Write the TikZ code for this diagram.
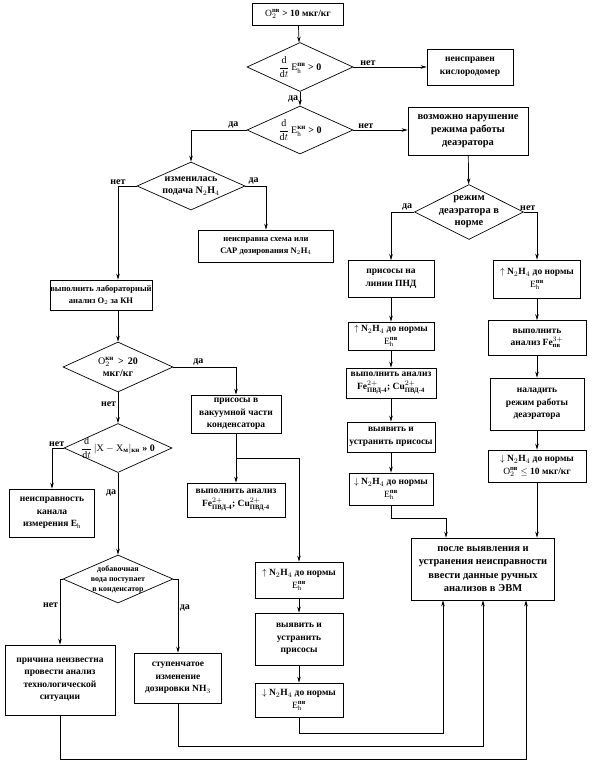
\documentclass[tikz,border=0pt]{standalone}
\usepackage{fontspec}
\usepackage{amsmath}
\setmainfont{Liberation Serif}
\usetikzlibrary{shapes.geometric, arrows.meta, calc}
\tikzset{
    box/.style={draw, line width=0.7pt, align=center, inner sep=0.5pt, font=\bfseries\fontsize{9.5}{12.5}\selectfont},
    dec/.style={draw, diamond, line width=0.7pt, inner sep=0pt},
    declab/.style={align=center, inner sep=0pt, font=\bfseries\fontsize{10}{12.5}\selectfont},
    sz/.style 2 args={minimum width=#1pt, minimum height=#2pt},
    arrow/.style={-{Stealth[length=6pt, width=3.5pt]}, line width=0.7pt},
    yn/.style={font=\bfseries\fontsize{10}{11}\selectfont, inner sep=1.5pt}
}
\newcommand{\Eh}[1]{$\mathrm{E}_{\mathrm{h}}^{\text{#1}}$}
\newcommand{\ddt}{$\dfrac{\mathrm{d}}{\mathrm{d}t}$}
\newcommand{\hyd}{N$_2$H$_4$}

\begin{document}
\begin{tikzpicture}[x=1pt, y=-1pt]
    \useasboundingbox (0,0) rectangle (594,763);
    % top
    \node[box, sz={91}{22}] (start) at (298,14) {$\mathrm{O}_2^{\text{пв}}$ > 10 мкг/кг};
    \node[dec, sz={106}{49}, label={[declab]center:{\ddt\,\Eh{пв} > 0}}] (d1) at (300,67) {};
    \node[box, sz={86}{36}] (kisl) at (470,67) {неисправен\\кислородомер};
    \node[dec, sz={106}{48}, label={[declab]center:{\ddt\,\Eh{кн} > 0}}] (d2) at (300,130) {};
    \node[box, sz={120}{48}, font=\bfseries\fontsize{10.5}{13}\selectfont] (deaer) at (468,131) {возможно нарушение\\режима работы\\деаэратора};
    % left branch
    \node[dec, sz={108}{48}, label={[declab]center:{изменилась\\подача \hyd}}] (d3) at (191,186) {};
    \node[box, sz={135}{32}, font=\bfseries\fontsize{8.5}{12}\selectfont] (sar) at (266,246) {неисправна схема или\\САР дозирования \hyd};
    \node[box, sz={102}{30}, font=\bfseries\fontsize{8.5}{12}\selectfont] (labor) at (101,295) {выполнить лабораторный\\анализ O$_2$ за КН};
    \node[dec, sz={110}{50}, label={[declab]center:{$\mathrm{O}_2^{\text{кн}}$ \,>\, 20\\мкг/кг}}] (d4) at (118,367) {};
    \node[box, sz={90}{38}] (vak) at (236,414) {присосы в\\вакуумной части\\конденсатора};
    \node[box, sz={98}{34}] (fe1) at (236,500) {выполнить анализ\\Fe$^{2+}_{\text{ПВД-4}}$; Cu$^{2+}_{\text{ПВД-4}}$};
    \node[dec, sz={108}{49}, label={[declab]center:{\ddt\,$|\mathrm{X}-\mathrm{X}_{\text{м}}|_{\text{кн}}$ » 0}}] (d6) at (118,448) {};
    \node[box, sz={85}{48}] (kanal) at (52,513) {неисправность\\канала\\измерения E$_\mathrm{h}$};
    \node[dec, sz={110}{48}, label={[declab, font=\bfseries\fontsize{8}{10}\selectfont]center:{добавочная\\вода поступает\\в конденсатор}}] (d7) at (118,579) {};
    \node[box, sz={110}{70}] (prich) at (60,680) {причина неизвестна\\провести анализ\\технологической\\ситуации};
    \node[box, sz={87}{50}] (stup) at (178,678) {ступенчатое\\изменение\\дозировки NH$_3$};
    \node[box, sz={88}{36}] (up1) at (299,580) {$\uparrow$ \hyd{} до нормы\\\Eh{пв}};
    \node[box, sz={88}{52}] (vyav1) at (299,639) {выявить и\\устранить\\присосы};
    \node[box, sz={88}{34}] (down1) at (299,700) {$\downarrow$ \hyd{} до нормы\\\Eh{пв}};
    % right branch
    \node[dec, sz={109}{55}, label={[declab, font=\bfseries\fontsize{10.5}{12.5}\selectfont]center:{режим\\деаэратора в\\норме}}] (d5) at (469,212) {};
    \node[box, sz={86}{37}] (pnd) at (391,279) {присосы на\\линии ПНД};
    \node[box, sz={86}{28}] (up2) at (391,336) {$\uparrow$ \hyd{} до нормы\\\Eh{пв}};
    \node[box, sz={90}{30}] (fe2) at (391,383) {выполнить анализ\\Fe$^{2+}_{\text{ПВД-4}}$; Cu$^{2+}_{\text{ПВД-4}}$};
    \node[box, sz={88}{30}] (vyav2) at (391,437) {выявить и\\устранить присосы};
    \node[box, sz={84}{32}] (down2) at (391,489) {$\downarrow$ \hyd{} до нормы\\\Eh{пв}};
    \node[box, sz={87}{38}] (up3) at (537,279) {$\uparrow$ \hyd{} до нормы\\\Eh{пв}};
    \node[box, sz={98}{35}] (fe3) at (537,338) {выполнить\\анализ Fe$^{3+}_{\text{пв}}$};
    \node[box, sz={94}{52}] (nal) at (537,404) {наладить\\режим работы\\деаэратора};
    \node[box, sz={98}{32}] (down3) at (537,466) {$\downarrow$ \hyd{} до нормы\\$\mathrm{O}_2^{\text{пв}}\le$ 10 мкг/кг};
    \node[box, sz={143}{62}, font=\bfseries\fontsize{10.5}{13.5}\selectfont] (evm) at (483,569) {после выявления и\\устранения неисправности\\ввести данные ручных\\анализов в ЭВМ};

    % connectors
    \draw[arrow] (start) -- (d1);
    \draw[arrow] (d1) -- node[yn, pos=0.2, above] {нет} (kisl);
    \draw[arrow] (d1) -- node[yn, pos=0.5, left] {да} (d2);
    \draw[arrow] (d2.east) -- node[yn, pos=0.23, above] {нет} (d2.east -| deaer.west);
    \draw[arrow] (d2.west) -| node[yn, pos=0.12, above] {да} (d3.north);
    \draw[arrow] (d3.west) -| node[yn, pos=0.5, above] {нет} (labor.north -| d4.north);
    \draw[arrow] (d3.east) -| node[yn, pos=0.2, above] {да} (sar.north);
    \draw[arrow] (labor.south -| d4.north) -- (d4.north);
    \draw[arrow] (d4.east) -| node[yn, pos=0.2, above] {да} (vak.north);
    \draw[arrow] (d4.south) -- node[yn, pos=0.4, left] {нет} (d6.north);
    \draw[arrow] (d6.west) -| node[yn, pos=0.3, above] {нет} (kanal.north);
    \draw[arrow] (d6.south) -- node[yn, pos=0.25, left] {да} (d7.north);
    \draw[arrow] (d7.west) -| node[yn, pos=0.7, left] {нет} (prich.north);
    \draw[arrow] (d7.east) -| node[yn, pos=0.7, right] {да} (stup.north);
    \draw[arrow] ($(vak.south)!0.5!(fe1.north)$) -| (up1.north);
    \foreach \a/\b in {vak/fe1, up1/vyav1, vyav1/down1, deaer/d5, pnd/up2, up2/fe2, fe2/vyav2, vyav2/down2, up3/fe3, fe3/nal, nal/down3}
        \draw[arrow] (\a) -- (\b);
    \draw[arrow] (d5.west) -| node[yn, pos=0.15, above] {да} (pnd.north);
    \draw[arrow] (d5.east) -| node[yn, pos=0.15, above] {нет} (up3.north);
    % into the last box
    \draw[arrow] (down2.south) -- ++(0,13) -| ([xshift=-37pt]evm.north);
    \draw[arrow] (down3.south) -- (down3.south |- evm.north);
    \draw[arrow] (down1.south) -- ++(0,16) -| ([xshift=-40pt]evm.south);
    \draw[arrow] (stup.south) -- ++(0,43) -| (evm.south);
    \draw[arrow] (prich.south) -- ++(0,44) -| ([xshift=43pt]evm.south);
\end{tikzpicture}
\end{document}
